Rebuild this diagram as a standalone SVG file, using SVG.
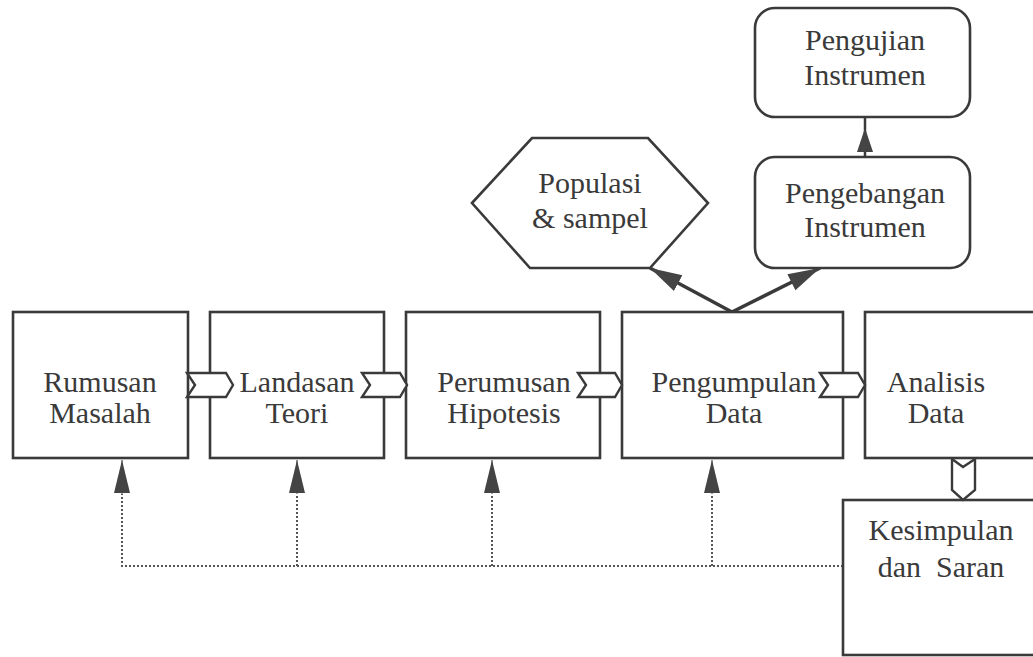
<svg xmlns="http://www.w3.org/2000/svg" width="1033" height="657" viewBox="0 0 1033 657">
<style>
.box{fill:#fff;stroke:#3a3a3a;stroke-width:2.6}
.t{font-family:'Liberation Serif','DejaVu Serif',serif;font-size:30px;fill:#3a3a3a;text-anchor:middle}
.chev{fill:#fff;stroke:#3a3a3a;stroke-width:2.4;stroke-linejoin:miter}
.dot{fill:none;stroke:#555;stroke-width:2;stroke-dasharray:2 2}
.solid{fill:none;stroke:#3a3a3a;stroke-width:3.5}
</style>
<defs>
<marker id="ah" markerUnits="userSpaceOnUse" markerWidth="34" markerHeight="20" refX="32" refY="10" orient="auto">
<path d="M0,1 L32,10 L0,19 z" fill="#444"/>
</marker>
<marker id="ahd" markerUnits="userSpaceOnUse" markerWidth="34" markerHeight="18" refX="33" refY="8" orient="auto">
<path d="M0,0 L33,8 L0,16 z" fill="#444"/>
</marker>
<marker id="ahs" markerUnits="userSpaceOnUse" markerWidth="26" markerHeight="18" refX="24" refY="9" orient="auto">
<path d="M0,1 L24,9 L0,17 z" fill="#444"/>
</marker>
</defs>
<rect width="1033" height="657" fill="#fff"/>
<g id="connectors">
<path class="dot" d="M843,566 H122 V494"/>
<path class="dot" d="M297,566 V494"/>
<path class="dot" d="M492,566 V494"/>
<path class="dot" d="M712,566 V494"/>
<line x1="122" y1="494" x2="122" y2="460" stroke="#444" stroke-width="1" marker-end="url(#ahd)"/>
<line x1="297" y1="494" x2="297" y2="460" stroke="#444" stroke-width="1" marker-end="url(#ahd)"/>
<line x1="492" y1="494" x2="492" y2="460" stroke="#444" stroke-width="1" marker-end="url(#ahd)"/>
<line x1="712" y1="494" x2="712" y2="460" stroke="#444" stroke-width="1" marker-end="url(#ahd)"/>
<line class="solid" x1="732" y1="312" x2="650" y2="268" marker-end="url(#ah)"/>
<line class="solid" x1="732" y1="312" x2="820" y2="268" marker-end="url(#ah)"/>
<line x1="865" y1="157" x2="865" y2="117" stroke="#3a3a3a" stroke-width="2.5"/>
<line x1="865" y1="154" x2="865" y2="128" stroke="none" marker-end="url(#ahs)"/>
</g>
<g id="rumusan-masalah">
<rect class="box" x="13" y="312" width="175" height="146"/>
<text class="t" x="100" y="392">Rumusan</text>
<text class="t" x="100" y="423">Masalah</text>
</g>
<g id="landasan-teori">
<rect class="box" x="210" y="312" width="174" height="146"/>
<text class="t" x="297" y="392">Landasan</text>
<text class="t" x="297" y="423">Teori</text>
</g>
<g id="perumusan-hipotesis">
<rect class="box" x="406" y="312" width="194" height="146"/>
<text class="t" x="504" y="392">Perumusan</text>
<text class="t" x="504" y="423">Hipotesis</text>
</g>
<g id="pengumpulan-data">
<rect class="box" x="622" y="312" width="221" height="146"/>
<text class="t" x="734" y="392">Pengumpulan</text>
<text class="t" x="734" y="423">Data</text>
</g>
<g id="analisis-data">
<rect class="box" x="865" y="312" width="200" height="146"/>
<text class="t" x="936" y="392">Analisis</text>
<text class="t" x="936" y="423">Data</text>
</g>
<g id="kesimpulan-saran">
<rect class="box" x="843" y="500" width="220" height="155"/>
<text class="t" x="941" y="540">Kesimpulan</text>
<text class="t" x="941" y="577" xml:space="preserve">dan  Saran</text>
</g>
<g id="populasi-sampel">
<polygon class="box" points="472,203 532,138 648,138 708,203 650,268 530,268"/>
<text class="t" x="590" y="193">Populasi</text>
<text class="t" x="590" y="228">&amp; sampel</text>
</g>
<g id="pengebangan-instrumen">
<rect class="box" x="755" y="157" width="215" height="111" rx="20" ry="20"/>
<text class="t" x="865" y="203">Pengebangan</text>
<text class="t" x="865" y="237">Instrumen</text>
</g>
<g id="pengujian-instrumen">
<rect class="box" x="755" y="8" width="215" height="109" rx="20" ry="20"/>
<text class="t" x="865" y="50">Pengujian</text>
<text class="t" x="865" y="85">Instrumen</text>
</g>
<g id="flow-chevrons">
<polygon class="chev" points="187,373 226,373 233,385 226,397 187,397 195,385"/>
<polygon class="chev" points="362,373 400,373 407,385 400,397 362,397 370,385"/>
<polygon class="chev" points="578,373 615,373 622,385 615,397 578,397 586,385"/>
<polygon class="chev" points="820,373 858,373 865,385 858,397 820,397 828,385"/>
<polygon class="chev" points="952,459 963,467 975,459 975,490 963,500 952,490"/>
</g>
</svg>
